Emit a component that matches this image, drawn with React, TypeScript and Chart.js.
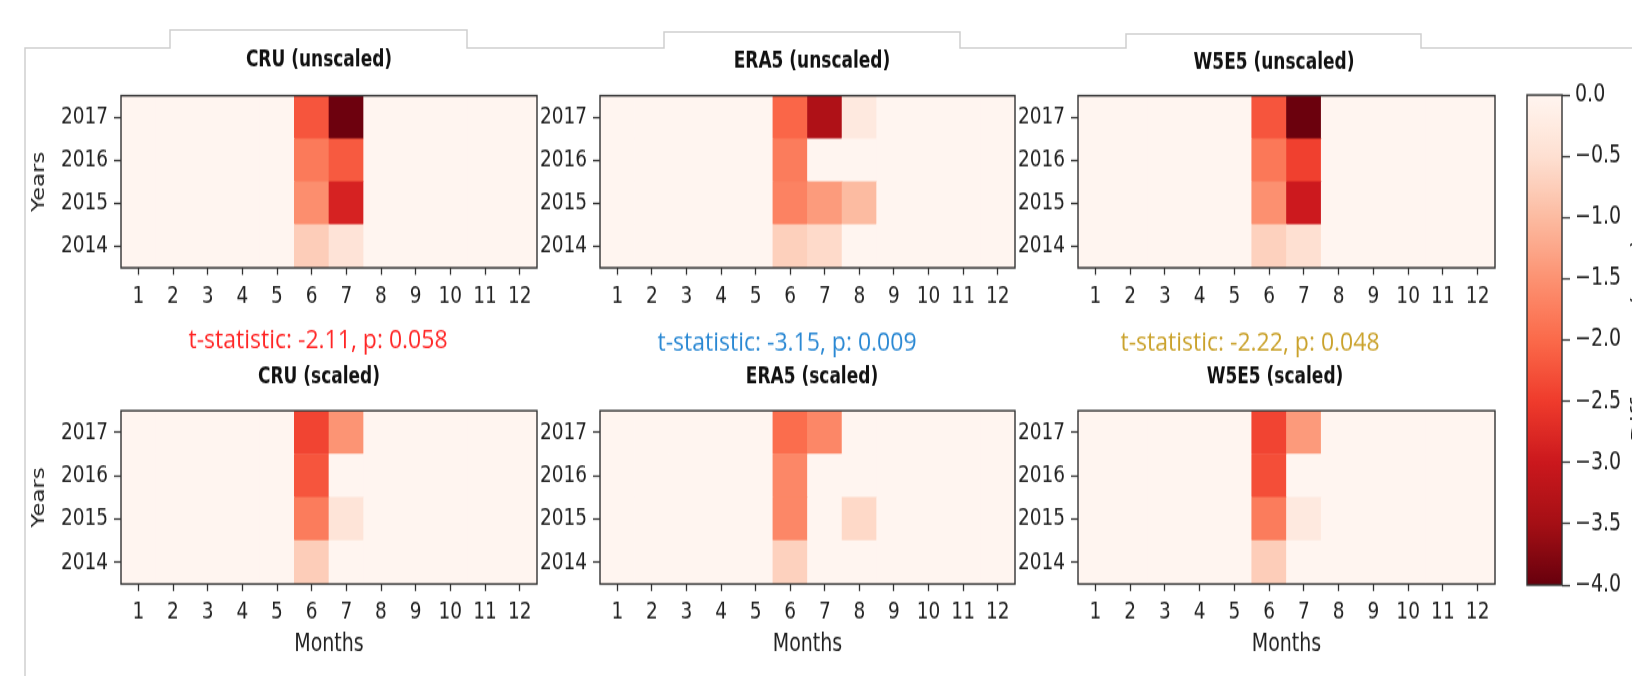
import React, { useEffect, useRef } from 'react';
import { Chart, registerables } from 'chart.js';

Chart.register(...registerables);

// vertical stretch of the reference figure (canvases are drawn at H and shown at H*S)
const S = 1.3;
const FAMILY = 'DejaVu Sans';

const MONTHS = ['1', '2', '3', '4', '5', '6', '7', '8', '9', '10', '11', '12'];
const YEARS = [2014, 2015, 2016, 2017];
const CBAR_TICKS = [0, -0.5, -1, -1.5, -2, -2.5, -3, -3.5, -4];

// rows: 2014, 2015, 2016, 2017 ; columns: months 1..12
const CRU_UNSCALED = [
  [0, 0, 0, 0, 0, -0.76, -0.42, 0, 0, 0, 0, 0],
  [0, 0, 0, 0, 0, -1.55, -2.85, 0, 0, 0, 0, 0],
  [0, 0, 0, 0, 0, -1.8, -2.17, 0, 0, 0, 0, 0],
  [0, 0, 0, 0, 0, -2.22, -3.95, 0, 0, 0, 0, 0],
];
const ERA5_UNSCALED = [
  [0, 0, 0, 0, 0, -0.72, -0.58, 0, 0, 0, 0, 0],
  [0, 0, 0, 0, 0, -1.7, -1.39, -1.0, 0, 0, 0, 0],
  [0, 0, 0, 0, 0, -1.77, 0, 0, 0, 0, 0, 0],
  [0, 0, 0, 0, 0, -2.04, -3.37, -0.28, 0, 0, 0, 0],
];
const W5E5_UNSCALED = [
  [0, 0, 0, 0, 0, -0.7, -0.5, 0, 0, 0, 0, 0],
  [0, 0, 0, 0, 0, -1.52, -2.98, 0, 0, 0, 0, 0],
  [0, 0, 0, 0, 0, -1.82, -2.45, 0, 0, 0, 0, 0],
  [0, 0, 0, 0, 0, -2.22, -3.97, 0, 0, 0, 0, 0],
];
const CRU_SCALED = [
  [0, 0, 0, 0, 0, -0.76, 0, 0, 0, 0, 0, 0],
  [0, 0, 0, 0, 0, -1.77, -0.4, 0, 0, 0, 0, 0],
  [0, 0, 0, 0, 0, -2.22, 0, 0, 0, 0, 0, 0],
  [0, 0, 0, 0, 0, -2.4, -1.48, 0, 0, 0, 0, 0],
];
const ERA5_SCALED = [
  [0, 0, 0, 0, 0, -0.7, 0, 0, 0, 0, 0, 0],
  [0, 0, 0, 0, 0, -1.64, 0, -0.6, 0, 0, 0, 0],
  [0, 0, 0, 0, 0, -1.64, 0, 0, 0, 0, 0, 0],
  [0, 0, 0, 0, 0, -1.96, -1.64, 0, 0, 0, 0, 0],
];
const W5E5_SCALED = [
  [0, 0, 0, 0, 0, -0.76, 0, 0, 0, 0, 0, 0],
  [0, 0, 0, 0, 0, -1.78, -0.28, 0, 0, 0, 0, 0],
  [0, 0, 0, 0, 0, -2.3, 0, 0, 0, 0, 0, 0],
  [0, 0, 0, 0, 0, -2.4, -1.4, 0, 0, 0, 0, 0],
];

const TITLES_TOP = ['CRU (unscaled)', 'ERA5 (unscaled)', 'W5E5 (unscaled)'];
const TITLES_BOTTOM = ['CRU (scaled)', 'ERA5 (scaled)', 'W5E5 (scaled)'];
const T_STATS = ['t-statistic: -2.11, p: 0.058', 't-statistic: -3.15, p: 0.009', 't-statistic: -2.22, p: 0.048'];
const T_COLORS = ['#ff2626', '#2a88d3', '#caa22c'];
const CBAR_LABEL = 'Difference (mm)';

// matplotlib "Reds" colormap stops
const REDS: number[][] = [
  [255, 245, 240], [254, 224, 210], [252, 187, 161], [252, 146, 114], [251, 106, 74],
  [239, 59, 44], [203, 24, 29], [165, 15, 21], [103, 0, 13],
];
function redsAt(t: number) {
  const tt = Math.min(1, Math.max(0, t));
  const p = tt * 8;
  const i = Math.min(7, Math.floor(p));
  const f = p - i;
  const a = REDS[i], b = REDS[i + 1];
  const c = [0, 1, 2].map((k) => Math.round(a[k] + (b[k] - a[k]) * f));
  return `rgb(${c[0]},${c[1]},${c[2]})`;
}
const colorFor = (v: number) => redsAt(-v / 4);

// layout (page px)
const COLS = [
  { plotL: 121, plotR: 537, titleX: 319, titleY: 60, tX: 318, tY: 340.5, subX: 319, subY: 377.5 },
  { plotL: 600, plotR: 1015, titleX: 812, titleY: 61.5, tX: 787, tY: 343, subX: 812, subY: 377 },
  { plotL: 1078, plotR: 1495, titleX: 1274, titleY: 63, tX: 1250, tY: 343, subX: 1275, subY: 377 },
];
const ROWS = [
  { top: 0, h: 250, plotTop: 95.7, plotBottom: 267.8 },
  { top: 300, h: 290, plotTop: 410.7, plotBottom: 584 },
];
const Y_AXIS_W = 96;

type TextItem = { text: string; x: number; y: number; font: string; color: string; sy?: number };

function makeDeco(left: number, top: number, texts: TextItem[], box: boolean) {
  return {
    id: 'deco',
    afterDatasetsDraw(chart: any) {
      if (!box) return;
      const { ctx, chartArea: a } = chart;
      ctx.save();
      ctx.strokeStyle = '#333';
      ctx.lineWidth = 1.4;
      ctx.strokeRect(a.left, a.top, a.right - a.left, a.bottom - a.top);
      ctx.restore();
    },
    afterDraw(chart: any) {
      const { ctx } = chart;
      texts.forEach((t) => {
        ctx.save();
        ctx.translate(t.x - left, (t.y - top) / S);
        ctx.scale(1, t.sy || 1);
        ctx.font = t.font;
        ctx.fillStyle = t.color;
        ctx.textAlign = 'center';
        ctx.textBaseline = 'middle';
        ctx.fillText(t.text, 0, 0);
        ctx.restore();
      });
    },
  };
}

function HeatPanel(props: { values: number[][]; ci: number; ri: number }) {
  const { values, ci, ri } = props;
  const col = COLS[ci];
  const row = ROWS[ri];
  const ref = useRef<HTMLCanvasElement>(null);
  const left = col.plotL - Y_AXIS_W;
  const width = col.plotR + 4 - left;

  useEffect(() => {
    const cv = ref.current;
    if (!cv) return;
    const padTop = (row.plotTop - row.top) / S;
    const xAxisH = row.h - (row.plotBottom - row.top) / S;
    const showYears = ci === 0;
    const showMonths = ri === 1;
    const texts: TextItem[] = ri === 0
      ? [{ text: TITLES_TOP[ci], x: col.titleX, y: col.titleY, font: `bold 17px "${FAMILY}"`, color: '#111' }]
      : [
          { text: T_STATS[ci], x: col.tX, y: col.tY, font: '23px "Open Sans"', color: T_COLORS[ci], sy: 0.85 },
          { text: TITLES_BOTTOM[ci], x: col.subX, y: col.subY, font: `bold 17px "${FAMILY}"`, color: '#111' },
        ];

    const datasets = YEARS.map((yr, r) => ({
      data: MONTHS.map(() => [yr - 0.5, yr + 0.5]),
      backgroundColor: values[r].map((v) => colorFor(v)),
      borderWidth: 0,
      barPercentage: 1,
      categoryPercentage: 1,
      grouped: false,
    }));

    const chart = new Chart(cv, {
      type: 'bar',
      data: { labels: MONTHS, datasets: datasets as any },
      options: {
        animation: false,
        responsive: false,
        maintainAspectRatio: false,
        events: [],
        layout: { padding: { top: padTop, left: 0, right: 4, bottom: 0 } },
        plugins: { legend: { display: false }, tooltip: { enabled: false }, title: { display: false } },
        scales: {
          x: {
            type: 'category',
            offset: true,
            grid: { display: true, drawOnChartArea: false, drawTicks: true, tickLength: 7 / S, tickColor: '#333', tickWidth: 1.3, offset: false },
            border: { display: false },
            ticks: { font: { family: FAMILY, size: 18.5 }, color: '#222', padding: 5.5, maxRotation: 0, autoSkip: false },
            title: showMonths
              ? { display: true, text: 'Months', font: { family: FAMILY, size: 19 }, color: '#222', padding: { top: 0, bottom: 13.2 } }
              : { display: false },
            afterFit: (s: any) => { s.height = xAxisH; },
          },
          y: {
            type: 'linear',
            min: 2013.5,
            max: 2017.5,
            afterBuildTicks: (s: any) => { s.ticks = YEARS.map((v) => ({ value: v })); },
            grid: { display: true, drawOnChartArea: false, drawTicks: true, tickLength: 7, tickColor: '#333', tickWidth: 1.3 },
            border: { display: false },
            ticks: { font: { family: FAMILY, size: 18.5 }, color: '#222', padding: 6, callback: (v: any) => String(v) },
            title: showYears
              ? { display: true, text: 'Years', font: { family: FAMILY, size: 17.5 }, color: '#222', padding: { top: 3.5, bottom: 0 } }
              : { display: false },
            afterFit: (s: any) => { s.width = Y_AXIS_W; },
          },
        },
      } as any,
      plugins: [makeDeco(left, row.top, texts, true)],
    });
    return () => chart.destroy();
  }, []);

  return (
    <canvas
      ref={ref}
      width={width}
      height={row.h}
      style={{ position: 'absolute', left, top: row.top, width, height: row.h * S }}
    />
  );
}

function ColorBar() {
  const ref = useRef<HTMLCanvasElement>(null);
  const left = 1500;
  const width = 132;
  const h = 520;
  const cbTop = 95;
  const cbBottom = 585;

  useEffect(() => {
    const cv = ref.current;
    if (!cv) return;
    const labelPlugin = {
      id: 'cblabel',
      afterDraw(chart: any) {
        const { ctx } = chart;
        ctx.save();
        ctx.translate(1630.5 - left, ((cbTop + cbBottom) / 2) / S);
        ctx.rotate(-Math.PI / 2);
        ctx.font = `19px "${FAMILY}"`;
        ctx.fillStyle = '#222';
        ctx.textAlign = 'center';
        ctx.textBaseline = 'top';
        ctx.fillText(CBAR_LABEL, 0, 0);
        ctx.restore();
      },
    };
    const chart = new Chart(cv, {
      type: 'bar',
      data: {
        labels: [''],
        datasets: [
          {
            data: [[CBAR_TICKS[CBAR_TICKS.length - 1], CBAR_TICKS[0]]],
            backgroundColor: (c: any) => {
              const a = c.chart.chartArea;
              if (!a) return redsAt(0);
              const g = c.chart.ctx.createLinearGradient(0, a.top, 0, a.bottom);
              for (let i = 0; i <= 16; i++) g.addColorStop(i / 16, redsAt(i / 16));
              return g;
            },
            borderWidth: 0,
            barPercentage: 1,
            categoryPercentage: 1,
          } as any,
        ],
      },
      options: {
        animation: false,
        responsive: false,
        maintainAspectRatio: false,
        events: [],
        layout: { padding: { top: cbTop / S, left: 27, right: 0, bottom: (676 - cbBottom) / S } },
        plugins: { legend: { display: false }, tooltip: { enabled: false } },
        scales: {
          x: { display: false },
          y: {
            position: 'right',
            min: -4,
            max: 0,
            afterBuildTicks: (s: any) => { s.ticks = CBAR_TICKS.map((v) => ({ value: v })); },
            grid: { display: true, drawOnChartArea: false, drawTicks: true, tickLength: 8, tickColor: '#333', tickWidth: 1.3 },
            border: { display: false },
            ticks: {
              font: { family: FAMILY, size: 19 },
              color: '#222',
              padding: 5,
              callback: (v: any) => (Number(v) === 0 ? '0.0' : '\u2212' + Math.abs(Number(v)).toFixed(1)),
            },
            afterFit: (s: any) => { s.width = 70; },
          },
        },
      } as any,
      plugins: [makeDeco(left, 0, [], true), labelPlugin],
    });
    return () => chart.destroy();
  }, []);

  return (
    <canvas
      ref={ref}
      width={width}
      height={h}
      style={{ position: 'absolute', left, top: 0, width, height: h * S }}
    />
  );
}

const PANELS = [
  { values: CRU_UNSCALED, ci: 0, ri: 0 },
  { values: ERA5_UNSCALED, ci: 1, ri: 0 },
  { values: W5E5_UNSCALED, ci: 2, ri: 0 },
  { values: CRU_SCALED, ci: 0, ri: 1 },
  { values: ERA5_SCALED, ci: 1, ri: 1 },
  { values: W5E5_SCALED, ci: 2, ri: 1 },
];

export default function App() {
  return (
    <div
      style={{ position: 'fixed', left: 0, top: 0, width: 1632, height: 676, background: '#fff', overflow: 'hidden' }}
    >
      <svg width={1632} height={676} style={{ position: 'absolute', left: 0, top: 0 }}>
        <path
          d="M25 676 V48 H170 V30 H467 V48 H664 V32 H960 V48 H1126 V34 H1421 V48 H1632"
          fill="none"
          stroke="#cfcfcf"
          strokeWidth={1.5}
        />
      </svg>
      {PANELS.map((p, i) => (
        <HeatPanel key={i} values={p.values} ci={p.ci} ri={p.ri} />
      ))}
      <ColorBar />
    </div>
  );
}
